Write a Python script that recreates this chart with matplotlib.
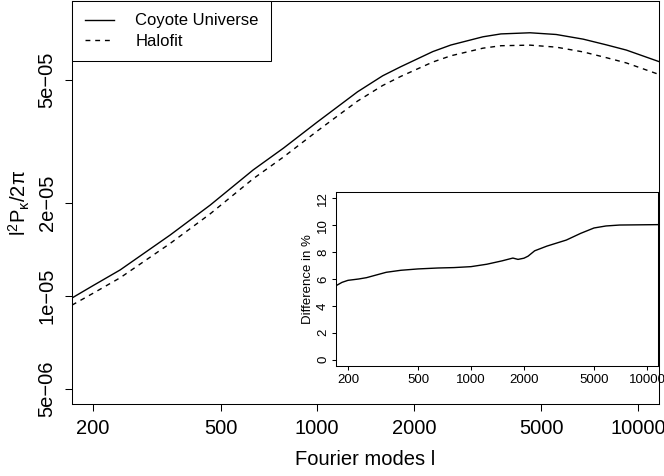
import numpy as np
import matplotlib
matplotlib.use("Agg")
import matplotlib.pyplot as plt
from matplotlib.ticker import FixedLocator, NullLocator, FixedFormatter

plt.rcParams["font.family"] = ["Liberation Sans", "DejaVu Sans"]
plt.rcParams["mathtext.fontset"] = "custom"
plt.rcParams["mathtext.rm"] = "Liberation Sans"
plt.rcParams["mathtext.it"] = "Liberation Sans:italic"
plt.rcParams["mathtext.default"] = "regular"
plt.rcParams["axes.linewidth"] = 0.75

# Fourier modes and convergence power spectra
ell = [172, 200, 243, 348, 464, 632, 785, 1002, 1336, 1600, 1821, 2293, 2610,
       3286, 3739, 4610, 5560, 6750, 7960, 9200, 11660]
coyote = [9.85e-06, 1.08e-05, 1.214e-05, 1.575e-05, 1.969e-05, 2.56e-05, 3.01e-05,
          3.66e-05, 4.58e-05, 5.16e-05, 5.52e-05, 6.18e-05, 6.49e-05,
          6.90e-05, 7.05e-05, 7.11e-05, 7.02e-05, 6.78e-05, 6.50e-05, 6.25e-05, 5.73e-05]
halofit = [9.34e-06, 1.020e-05, 1.145e-05, 1.479e-05, 1.845e-05, 2.397e-05, 2.817e-05,
           3.423e-05, 4.274e-05, 4.80e-05, 5.135e-05, 5.717e-05, 5.990e-05,
           6.339e-05, 6.456e-05, 6.484e-05, 6.388e-05, 6.164e-05, 5.908e-05, 5.679e-05, 5.207e-05]

# relative difference in percent (inset)
ell_diff = [171, 185, 200, 230, 255, 290, 330, 400, 500, 650, 800, 1000, 1230,
            1500, 1730, 1850, 2000, 2110, 2300, 2700, 3480, 4200, 5000, 5850,
            7000, 11600]
diff_pct = [5.5, 5.75, 5.9, 6.0, 6.1, 6.3, 6.5, 6.65, 6.75, 6.82, 6.85, 6.92, 7.1,
            7.35, 7.56, 7.46, 7.55, 7.7, 8.1, 8.45, 8.9, 9.4, 9.8, 9.95,
            10.02, 10.05]

x_ticks = [200, 500, 1000, 2000, 5000, 10000]
y_ticks = [5e-06, 1e-05, 2e-05, 5e-05]
y_labels = ["5e\u221206", "1e\u221205", "2e\u221205", "5e\u221205"]
inset_yticks = [0, 2, 4, 6, 8, 10, 12]

fig = plt.figure(figsize=(6.64, 4.76), dpi=100)
ax = fig.add_axes([72 / 664, 1 - 404 / 476, 587 / 664, 403 / 476])

ax.plot(ell, coyote, "-", color="black", lw=1.0, label="Coyote Universe")
ax.plot(ell, halofit, color="black", lw=1.0, dashes=(3.5, 3.5), label="Halofit")

ax.set_xscale("log")
ax.set_yscale("log")
ax.set_xlim(172, 11630)
ax.set_ylim(4.47e-06, 9.01e-05)

ax.xaxis.set_major_locator(FixedLocator(x_ticks))
ax.xaxis.set_major_formatter(FixedFormatter([str(t) for t in x_ticks]))
ax.xaxis.set_minor_locator(NullLocator())
ax.yaxis.set_major_locator(FixedLocator(y_ticks))
ax.yaxis.set_major_formatter(FixedFormatter(y_labels))
ax.yaxis.set_minor_locator(NullLocator())
ax.tick_params(direction="out", length=5, width=0.75, labelsize=14.5, pad=6)
for lab in ax.get_yticklabels():
    lab.set_rotation(90)
    lab.set_va("center")

ax.set_xlabel("Fourier modes l", fontsize=14.5)
ax.xaxis.set_label_coords(0.5, -0.115)
ax.set_ylabel(r"$l^2P_\kappa/2\pi$", fontsize=14.5)
ax.yaxis.set_label_coords(-0.068, 0.5)

leg = ax.legend(loc="upper left", bbox_to_anchor=(0, 1), borderaxespad=0,
                fontsize=12, frameon=True, fancybox=False, framealpha=1,
                edgecolor="black", handlelength=1.75, handletextpad=1.3,
                borderpad=0.75, labelspacing=0.3)
leg.get_frame().set_linewidth(0.75)

# inset with the difference in percent
axi = fig.add_axes([336 / 664, 1 - 366 / 476, 322 / 664, 174 / 476])
axi.plot(ell_diff, diff_pct, "-", color="black", lw=1.0)
axi.set_xscale("log")
axi.set_xlim(171, 11550)
axi.set_ylim(-0.48, 12.48)
axi.xaxis.set_major_locator(FixedLocator(x_ticks))
axi.xaxis.set_major_formatter(FixedFormatter([str(t) for t in x_ticks]))
axi.xaxis.set_minor_locator(NullLocator())
axi.yaxis.set_major_locator(FixedLocator(inset_yticks))
axi.yaxis.set_major_formatter(FixedFormatter([str(t) for t in inset_yticks]))
axi.tick_params(direction="out", length=3, width=0.75, labelsize=9.5, pad=3)
axi.tick_params(axis="y", pad=2)
for lab in axi.get_yticklabels():
    lab.set_rotation(90)
    lab.set_va("center")
axi.set_ylabel("Difference in %", fontsize=9.5)
axi.yaxis.set_label_coords(-0.068, 0.5)

fig.savefig("out.png", dpi=100)
